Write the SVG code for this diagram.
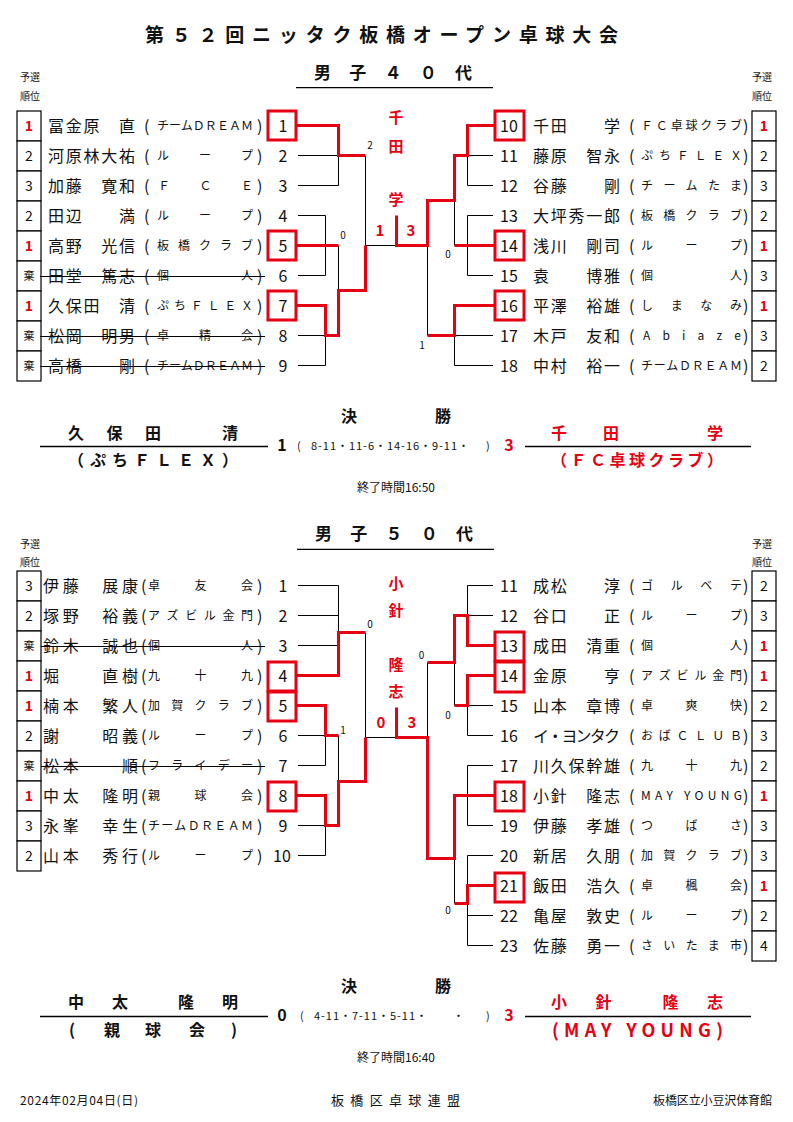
<svg xmlns="http://www.w3.org/2000/svg" width="793" height="1122" viewBox="0 0 793 1122">
<style>
.t{font-family:"Noto Sans CJK JP","Noto Sans CJK SC",sans-serif;fill:#111}
.nm{font-size:16px}
.cl{font-size:12px}
.sd{font-size:16px}
.rk{font-size:14px;text-anchor:middle}
.ki{font-size:11px;text-anchor:middle}
.rr{fill:#e60012;font-weight:bold}
.lb{font-size:10px;text-anchor:middle}
.hd{font-size:10px}
.c{text-anchor:middle}
.b{font-weight:bold}
.red{fill:#e60012}
.ln{stroke:#000;stroke-width:1;fill:none}
.rl{stroke:#e60012;stroke-width:3;fill:none}
.rb{fill:none;stroke:#e60012;stroke-width:3}
.cell{fill:#fff;stroke:#000;stroke-width:1.2}
.st{stroke:#000;stroke-width:1.2}
.hl{stroke:#000;stroke-width:1.3}
</style>
<rect width="793" height="1122" fill="#fff"/>

<g id="header">
<text class="t b" x="145" y="42" font-size="19" textLength="473">第５２回ニッタク板橋オープン卓球大会</text>
<text class="t b" x="314" y="79" font-size="17" textLength="158">男子４０代</text>
<line class="hl" x1="296" y1="87.7" x2="493" y2="87.7"/>
<text class="t hd" x="20" y="81.3">予選</text>
<text class="t hd" x="20" y="99.8">順位</text>
<text class="t hd" x="752" y="81.3">予選</text>
<text class="t hd" x="752" y="99.8">順位</text>
</g>

<g id="connectors-40">
<path class="ln" d="M298 155.5H338.5M298 185.5H338.5M338.5 155.5V185.5M298 215.5H325.5M298 275.5H325.5M325.5 215.5V275.5M338.5 245.5V290.5M298 335.5H325.5M298 365.5H325.5M325.5 335.5V365.5M365.5 155.5V245.5M365.5 245.5H396.5"/>
<path class="ln" d="M493 155.5H467.5M493 185.5H467.5M467.5 155.5V185.5M493 215.5H467.5M493 275.5H467.5M467.5 215.5V275.5M454.5 200.5V245.5M493 335.5H454.5M493 365.5H454.5M454.5 335.5V365.5M427.5 245.5V335.5"/>
<path class="rl" d="M297 125.5H338.5V155.5H365.5"/>
<path class="rl" d="M297 245.5H338.5"/>
<path class="rl" d="M297 305.5H325.5V335.5H338.5V290.5H365.5V245.5"/>
<path class="rl" d="M494 125.5H467.5V155.5H454.5V200.5H427.5V245.5H396.5V215.5"/>
<path class="rl" d="M494 245.5H454.5"/>
<path class="rl" d="M494 305.5H454.5V335.5H427.5"/>
<text class="t lb" x="370" y="149">2</text>
<text class="t lb" x="343" y="239">0</text>
<text class="t lb" x="448" y="257.5">0</text>
<text class="t lb" x="422" y="349">1</text>
</g>

<g id="winner-40">
<text class="t red b c" x="396" y="123" font-size="15">千</text>
<text class="t red b c" x="396" y="152" font-size="15">田</text>
<text class="t red b c" x="396" y="204.5" font-size="15">学</text>
<text class="t red b c" x="380" y="235.5" font-size="15">1</text>
<text class="t red b c" x="411" y="235.5" font-size="15">3</text>
</g>

<!-- 40 left -->
<g id="m40-p1"><rect class="cell" x="17" y="111" width="24" height="30"/><text class="t rk rr" x="29" y="131">1</text><text class="t nm" x="48" y="131.5" textLength="87">冨金原　直</text><text class="t nm" x="144" y="131.5">(</text><text class="t cl" x="157" y="130" textLength="96">チームＤＲＥＡＭ</text><text class="t nm" x="257" y="131.5">)</text><text class="t sd c" x="283" y="131.5">1</text><rect class="rb" x="268" y="111" width="28" height="29"/></g>
<g id="m40-p2"><rect class="cell" x="17" y="141" width="24" height="30"/><text class="t rk" x="29" y="161">2</text><text class="t nm" x="48" y="161.5" textLength="87">河原林大祐</text><text class="t nm" x="144" y="161.5">(</text><text class="t cl" x="157" y="160" textLength="96">ル　ー　プ</text><text class="t nm" x="257" y="161.5">)</text><text class="t sd c" x="283" y="161.5">2</text></g>
<g id="m40-p3"><rect class="cell" x="17" y="171" width="24" height="30"/><text class="t rk" x="29" y="191">3</text><text class="t nm" x="48" y="191.5" textLength="87">加藤　寛和</text><text class="t nm" x="144" y="191.5">(</text><text class="t cl" x="158" y="190" textLength="95">Ｆ　Ｃ　Ｅ</text><text class="t nm" x="257" y="191.5">)</text><text class="t sd c" x="283" y="191.5">3</text></g>
<g id="m40-p4"><rect class="cell" x="17" y="201" width="24" height="30"/><text class="t rk" x="29" y="221">2</text><text class="t nm" x="48" y="221.5" textLength="87">田辺　　満</text><text class="t nm" x="144" y="221.5">(</text><text class="t cl" x="157" y="220" textLength="96">ル　ー　プ</text><text class="t nm" x="257" y="221.5">)</text><text class="t sd c" x="283" y="221.5">4</text></g>
<g id="m40-p5"><rect class="cell" x="17" y="231" width="24" height="30"/><text class="t rk rr" x="29" y="251">1</text><text class="t nm" x="48" y="251.5" textLength="87">高野　光信</text><text class="t nm" x="144" y="251.5">(</text><text class="t cl" x="157" y="250" textLength="96">板橋クラブ</text><text class="t nm" x="257" y="251.5">)</text><text class="t sd c" x="283" y="251.5">5</text><rect class="rb" x="268" y="231" width="28" height="29"/></g>
<g id="m40-p6"><rect class="cell" x="17" y="261" width="24" height="30"/><text class="t ki" x="29" y="280">棄</text><text class="t nm" x="48" y="281.5" textLength="87">田堂　篤志</text><text class="t nm" x="144" y="281.5">(</text><text class="t cl" x="157" y="280" textLength="96">個　　人</text><text class="t nm" x="257" y="281.5">)</text><text class="t sd c" x="283" y="281.5">6</text><line class="st" x1="40" y1="276.5" x2="265" y2="276.5"/></g>
<g id="m40-p7"><rect class="cell" x="17" y="291" width="24" height="30"/><text class="t rk rr" x="29" y="311">1</text><text class="t nm" x="48" y="311.5" textLength="87">久保田　清</text><text class="t nm" x="144" y="311.5">(</text><text class="t cl" x="157" y="310" textLength="96">ぷちＦＬＥＸ</text><text class="t nm" x="257" y="311.5">)</text><text class="t sd c" x="283" y="311.5">7</text><rect class="rb" x="268" y="291" width="28" height="29"/></g>
<g id="m40-p8"><rect class="cell" x="17" y="321" width="24" height="30"/><text class="t ki" x="29" y="340">棄</text><text class="t nm" x="48" y="341.5" textLength="87">松岡　明男</text><text class="t nm" x="144" y="341.5">(</text><text class="t cl" x="157" y="340" textLength="96">卓　精　会</text><text class="t nm" x="257" y="341.5">)</text><text class="t sd c" x="283" y="341.5">8</text><line class="st" x1="40" y1="336.5" x2="265" y2="336.5"/></g>
<g id="m40-p9"><rect class="cell" x="17" y="351" width="24" height="30"/><text class="t ki" x="29" y="370">棄</text><text class="t nm" x="48" y="371.5" textLength="87">高橋　　剛</text><text class="t nm" x="144" y="371.5">(</text><text class="t cl" x="157" y="370" textLength="96">チームＤＲＥＡＭ</text><text class="t nm" x="257" y="371.5">)</text><text class="t sd c" x="283" y="371.5">9</text><line class="st" x1="40" y1="366.5" x2="265" y2="366.5"/></g>

<!-- 40 right -->
<g id="m40-p10"><text class="t sd" x="500" y="131.5">10</text><text class="t nm" x="533" y="131.5" textLength="87">千田　　学</text><text class="t nm" x="629" y="131.5">(</text><text class="t cl" x="641" y="130" textLength="101">ＦＣ卓球クラブ</text><text class="t nm" x="743" y="131.5">)</text><rect class="cell" x="752" y="111" width="24" height="30"/><text class="t rk rr" x="764" y="131">1</text><rect class="rb" x="495" y="111" width="29" height="29"/></g>
<g id="m40-p11"><text class="t sd" x="500" y="161.5">11</text><text class="t nm" x="533" y="161.5" textLength="87">藤原　智永</text><text class="t nm" x="629" y="161.5">(</text><text class="t cl" x="641" y="160" textLength="101">ぷちＦＬＥＸ</text><text class="t nm" x="743" y="161.5">)</text><rect class="cell" x="752" y="141" width="24" height="30"/><text class="t rk" x="764" y="161">2</text></g>
<g id="m40-p12"><text class="t sd" x="500" y="191.5">12</text><text class="t nm" x="533" y="191.5" textLength="87">谷藤　　剛</text><text class="t nm" x="629" y="191.5">(</text><text class="t cl" x="641" y="190" textLength="101">チームたま</text><text class="t nm" x="743" y="191.5">)</text><rect class="cell" x="752" y="171" width="24" height="30"/><text class="t rk" x="764" y="191">3</text></g>
<g id="m40-p13"><text class="t sd" x="500" y="221.5">13</text><text class="t nm" x="533" y="221.5" textLength="87">大坪秀一郎</text><text class="t nm" x="629" y="221.5">(</text><text class="t cl" x="641" y="220" textLength="101">板橋クラブ</text><text class="t nm" x="743" y="221.5">)</text><rect class="cell" x="752" y="201" width="24" height="30"/><text class="t rk" x="764" y="221">2</text></g>
<g id="m40-p14"><text class="t sd" x="500" y="251.5">14</text><text class="t nm" x="533" y="251.5" textLength="87">浅川　剛司</text><text class="t nm" x="629" y="251.5">(</text><text class="t cl" x="641" y="250" textLength="101">ル　ー　プ</text><text class="t nm" x="743" y="251.5">)</text><rect class="cell" x="752" y="231" width="24" height="30"/><text class="t rk rr" x="764" y="251">1</text><rect class="rb" x="495" y="231" width="29" height="29"/></g>
<g id="m40-p15"><text class="t sd" x="500" y="281.5">15</text><text class="t nm" x="533" y="281.5" textLength="87">袁　　博雅</text><text class="t nm" x="629" y="281.5">(</text><text class="t cl" x="641" y="280" textLength="101">個　　人</text><text class="t nm" x="743" y="281.5">)</text><rect class="cell" x="752" y="261" width="24" height="30"/><text class="t rk" x="764" y="281">3</text></g>
<g id="m40-p16"><text class="t sd" x="500" y="311.5">16</text><text class="t nm" x="533" y="311.5" textLength="87">平澤　裕雄</text><text class="t nm" x="629" y="311.5">(</text><text class="t cl" x="641" y="310" textLength="101">しまなみ</text><text class="t nm" x="743" y="311.5">)</text><rect class="cell" x="752" y="291" width="24" height="30"/><text class="t rk rr" x="764" y="311">1</text><rect class="rb" x="495" y="291" width="29" height="29"/></g>
<g id="m40-p17"><text class="t sd" x="500" y="341.5">17</text><text class="t nm" x="533" y="341.5" textLength="87">木戸　友和</text><text class="t nm" x="629" y="341.5">(</text><text class="t cl" x="643" y="340" textLength="98">Abiaze</text><text class="t nm" x="743" y="341.5">)</text><rect class="cell" x="752" y="321" width="24" height="30"/><text class="t rk" x="764" y="341">3</text></g>
<g id="m40-p18"><text class="t sd" x="500" y="371.5">18</text><text class="t nm" x="533" y="371.5" textLength="87">中村　裕一</text><text class="t nm" x="629" y="371.5">(</text><text class="t cl" x="641" y="370" textLength="101">チームＤＲＥＡＭ</text><text class="t nm" x="743" y="371.5">)</text><rect class="cell" x="752" y="351" width="24" height="30"/><text class="t rk" x="764" y="371">2</text></g>

<g id="final-40">
<text class="t b" x="341" y="422" font-size="16">決</text>
<text class="t b" x="435" y="422" font-size="16">勝</text>
<text class="t b" x="68" y="438.5" font-size="16" textLength="170">久　保　田　　　清</text>
<line class="hl" x1="40" y1="446.5" x2="268" y2="446.5"/>
<text class="t b" x="68" y="466" font-size="16" textLength="170">（ぷちＦＬＥＸ）</text>
<text class="t b c" x="282" y="451" font-size="16">1</text>
<text class="t" x="297" y="449.5" font-size="11">(</text>
<text class="t" x="311" y="449.5" font-size="11" textLength="158">8-11・11-6・14-16・9-11・</text>
<text class="t" x="486" y="449.5" font-size="11">)</text>
<text class="t b c red" x="509" y="451" font-size="16">3</text>
<line class="hl" x1="525" y1="446.5" x2="751" y2="446.5"/>
<text class="t b red" x="551" y="438.5" font-size="16" textLength="172">千　田　　　学</text>
<text class="t b red" x="551" y="466" font-size="16" textLength="172">（ＦＣ卓球クラブ）</text>
<text class="t c" x="396" y="492" font-size="12">終了時間16:50</text>
</g>

<g id="header-50">
<text class="t b" x="315" y="540.3" font-size="17" textLength="158">男子５０代</text>
<line class="hl" x1="297" y1="549.3" x2="494" y2="549.3"/>
<text class="t hd" x="20" y="548">予選</text>
<text class="t hd" x="20" y="566">順位</text>
<text class="t hd" x="752" y="548">予選</text>
<text class="t hd" x="752" y="566">順位</text>
</g>

<g id="connectors-50">
<path class="ln" d="M298 585.5H338.5M298 615.5H338.5M298 645.5H338.5M338.5 585.5V632.5M298 735.5H325.5M298 765.5H325.5M325.5 735.5V765.5M338.5 735.5V781.5M298 825.5H325.5M298 855.5H325.5M325.5 825.5V855.5M365.5 632.5V737.5M365.5 737.5H396.5"/>
<path class="ln" d="M493 585.5H467.5M493 615.5H467.5M467.5 585.5V615.5M493 705.5H467.5M493 735.5H467.5M467.5 705.5V735.5M454.5 662.5V705.5M427.5 662.5V737.5M493 765.5H467.5M493 825.5H467.5M467.5 765.5V825.5M493 855.5H467.5M493 915.5H467.5M493 945.5H467.5M467.5 855.5V945.5M454.5 858.5V903.5"/>
<path class="rl" d="M297 675.5H338.5V632.5H365.5"/>
<path class="rl" d="M297 705.5H325.5V735.5H338.5"/>
<path class="rl" d="M297 795.5H325.5V825.5H338.5V781.5H365.5V737.5"/>
<path class="rl" d="M494 645.5H467.5V615.5H454.5V662.5H427.5"/>
<path class="rl" d="M494 675.5H467.5V705.5H454.5"/>
<path class="rl" d="M494 795.5H454.5V858.5H427.5V737.5H396.5V707.5"/>
<path class="rl" d="M494 885.5H467.5V903.5H454.5"/>
<text class="t lb" x="370" y="627.5">0</text>
<text class="t lb" x="343" y="734">1</text>
<text class="t lb" x="421.5" y="658.5">0</text>
<text class="t lb" x="448" y="719">0</text>
<text class="t lb" x="448" y="913.5">0</text>
</g>

<g id="winner-50">
<text class="t red b c" x="396" y="589" font-size="15">小</text>
<text class="t red b c" x="396" y="615.7" font-size="15">針</text>
<text class="t red b c" x="396" y="670.4" font-size="15">隆</text>
<text class="t red b c" x="396" y="697.4" font-size="15">志</text>
<text class="t red b c" x="381" y="728" font-size="15">0</text>
<text class="t red b c" x="412" y="728" font-size="15">3</text>
</g>

<!-- 50 left -->
<g id="m50-p1"><rect class="cell" x="17" y="571" width="24" height="30"/><text class="t rk" x="29" y="591">3</text><text class="t nm" x="43" y="591.5" textLength="95">伊藤　展康</text><text class="t nm" x="141" y="591.5">(</text><text class="t cl" x="148" y="590" textLength="105">卓　友　会</text><text class="t nm" x="257" y="591.5">)</text><text class="t sd c" x="283" y="591.5">1</text></g>
<g id="m50-p2"><rect class="cell" x="17" y="601" width="24" height="30"/><text class="t rk" x="29" y="621">2</text><text class="t nm" x="43" y="621.5" textLength="95">塚野　裕義</text><text class="t nm" x="141" y="621.5">(</text><text class="t cl" x="148" y="620" textLength="105">アズビル金門</text><text class="t nm" x="257" y="621.5">)</text><text class="t sd c" x="283" y="621.5">2</text></g>
<g id="m50-p3"><rect class="cell" x="17" y="631" width="24" height="30"/><text class="t ki" x="29" y="650">棄</text><text class="t nm" x="43" y="651.5" textLength="95">鈴木　誠也</text><text class="t nm" x="141" y="651.5">(</text><text class="t cl" x="148" y="650" textLength="105">個　　人</text><text class="t nm" x="257" y="651.5">)</text><text class="t sd c" x="283" y="651.5">3</text><line class="st" x1="41" y1="646.5" x2="265" y2="646.5"/></g>
<g id="m50-p4"><rect class="cell" x="17" y="661" width="24" height="30"/><text class="t rk rr" x="29" y="681">1</text><text class="t nm" x="43" y="681.5" textLength="95">堀　　直樹</text><text class="t nm" x="141" y="681.5">(</text><text class="t cl" x="148" y="680" textLength="105">九　十　九</text><text class="t nm" x="257" y="681.5">)</text><text class="t sd c" x="283" y="681.5">4</text><rect class="rb" x="268" y="662" width="28" height="29"/></g>
<g id="m50-p5"><rect class="cell" x="17" y="691" width="24" height="30"/><text class="t rk rr" x="29" y="711">1</text><text class="t nm" x="43" y="711.5" textLength="95">楠本　繁人</text><text class="t nm" x="141" y="711.5">(</text><text class="t cl" x="148" y="710" textLength="105">加賀クラブ</text><text class="t nm" x="257" y="711.5">)</text><text class="t sd c" x="283" y="711.5">5</text><rect class="rb" x="268" y="692" width="28" height="29"/></g>
<g id="m50-p6"><rect class="cell" x="17" y="721" width="24" height="30"/><text class="t rk" x="29" y="741">2</text><text class="t nm" x="43" y="741.5" textLength="95">謝　　昭義</text><text class="t nm" x="141" y="741.5">(</text><text class="t cl" x="148" y="740" textLength="105">ル　ー　プ</text><text class="t nm" x="257" y="741.5">)</text><text class="t sd c" x="283" y="741.5">6</text></g>
<g id="m50-p7"><rect class="cell" x="17" y="751" width="24" height="30"/><text class="t ki" x="29" y="770">棄</text><text class="t nm" x="43" y="771.5" textLength="95">松本　　順</text><text class="t nm" x="141" y="771.5">(</text><text class="t cl" x="148" y="770" textLength="105">フライデー</text><text class="t nm" x="257" y="771.5">)</text><text class="t sd c" x="283" y="771.5">7</text><line class="st" x1="41" y1="766.5" x2="265" y2="766.5"/></g>
<g id="m50-p8"><rect class="cell" x="17" y="781" width="24" height="30"/><text class="t rk rr" x="29" y="801">1</text><text class="t nm" x="43" y="801.5" textLength="95">中太　隆明</text><text class="t nm" x="141" y="801.5">(</text><text class="t cl" x="148" y="800" textLength="105">親　球　会</text><text class="t nm" x="257" y="801.5">)</text><text class="t sd c" x="283" y="801.5">8</text><rect class="rb" x="268" y="782" width="28" height="29"/></g>
<g id="m50-p9"><rect class="cell" x="17" y="811" width="24" height="30"/><text class="t rk" x="29" y="831">3</text><text class="t nm" x="43" y="831.5" textLength="95">永峯　幸生</text><text class="t nm" x="141" y="831.5">(</text><text class="t cl" x="148" y="830" textLength="105">チームＤＲＥＡＭ</text><text class="t nm" x="257" y="831.5">)</text><text class="t sd c" x="283" y="831.5">9</text></g>
<g id="m50-p10"><rect class="cell" x="17" y="841" width="24" height="30"/><text class="t rk" x="29" y="861">2</text><text class="t nm" x="43" y="861.5" textLength="95">山本　秀行</text><text class="t nm" x="141" y="861.5">(</text><text class="t cl" x="148" y="860" textLength="105">ル　ー　プ</text><text class="t nm" x="257" y="861.5">)</text><text class="t sd c" x="282" y="861.5">10</text></g>

<!-- 50 right -->
<g id="m50-p11"><text class="t sd" x="500" y="591.5">11</text><text class="t nm" x="533" y="591.5" textLength="87">成松　　淳</text><text class="t nm" x="629" y="591.5">(</text><text class="t cl" x="641" y="590" textLength="101">ゴ　ル　ベ　テ</text><text class="t nm" x="743" y="591.5">)</text><rect class="cell" x="752" y="571" width="24" height="30"/><text class="t rk" x="764" y="591">2</text></g>
<g id="m50-p12"><text class="t sd" x="500" y="621.5">12</text><text class="t nm" x="533" y="621.5" textLength="87">谷口　　正</text><text class="t nm" x="629" y="621.5">(</text><text class="t cl" x="641" y="620" textLength="101">ル　ー　プ</text><text class="t nm" x="743" y="621.5">)</text><rect class="cell" x="752" y="601" width="24" height="30"/><text class="t rk" x="764" y="621">3</text></g>
<g id="m50-p13"><text class="t sd" x="500" y="651.5">13</text><text class="t nm" x="533" y="651.5" textLength="87">成田　清重</text><text class="t nm" x="629" y="651.5">(</text><text class="t cl" x="641" y="650" textLength="101">個　　人</text><text class="t nm" x="743" y="651.5">)</text><rect class="cell" x="752" y="631" width="24" height="30"/><text class="t rk rr" x="764" y="651">1</text><rect class="rb" x="495" y="632" width="29" height="29"/></g>
<g id="m50-p14"><text class="t sd" x="500" y="681.5">14</text><text class="t nm" x="533" y="681.5" textLength="87">金原　　亨</text><text class="t nm" x="629" y="681.5">(</text><text class="t cl" x="641" y="680" textLength="101">アズビル金門</text><text class="t nm" x="743" y="681.5">)</text><rect class="cell" x="752" y="661" width="24" height="30"/><text class="t rk rr" x="764" y="681">1</text><rect class="rb" x="495" y="662" width="29" height="30"/></g>
<g id="m50-p15"><text class="t sd" x="500" y="711.5">15</text><text class="t nm" x="533" y="711.5" textLength="87">山本　章博</text><text class="t nm" x="629" y="711.5">(</text><text class="t cl" x="641" y="710" textLength="101">卓　爽　快</text><text class="t nm" x="743" y="711.5">)</text><rect class="cell" x="752" y="691" width="24" height="30"/><text class="t rk" x="764" y="711">2</text></g>
<g id="m50-p16"><text class="t sd" x="500" y="741.5">16</text><text class="t nm" x="533" y="741.5" textLength="87">イ・ヨンタク</text><text class="t nm" x="629" y="741.5">(</text><text class="t cl" x="641" y="740" textLength="101">おばＣＬＵＢ</text><text class="t nm" x="743" y="741.5">)</text><rect class="cell" x="752" y="721" width="24" height="30"/><text class="t rk" x="764" y="741">3</text></g>
<g id="m50-p17"><text class="t sd" x="500" y="771.5">17</text><text class="t nm" x="533" y="771.5" textLength="87">川久保幹雄</text><text class="t nm" x="629" y="771.5">(</text><text class="t cl" x="641" y="770" textLength="101">九　十　九</text><text class="t nm" x="743" y="771.5">)</text><rect class="cell" x="752" y="751" width="24" height="30"/><text class="t rk" x="764" y="771">2</text></g>
<g id="m50-p18"><text class="t sd" x="500" y="801.5">18</text><text class="t nm" x="533" y="801.5" textLength="87">小針　隆志</text><text class="t nm" x="629" y="801.5">(</text><text class="t cl" x="641" y="800" textLength="101">MAY YOUNG</text><text class="t nm" x="743" y="801.5">)</text><rect class="cell" x="752" y="781" width="24" height="30"/><text class="t rk rr" x="764" y="801">1</text><rect class="rb" x="495" y="782" width="29" height="29"/></g>
<g id="m50-p19"><text class="t sd" x="500" y="831.5">19</text><text class="t nm" x="533" y="831.5" textLength="87">伊藤　孝雄</text><text class="t nm" x="629" y="831.5">(</text><text class="t cl" x="641" y="830" textLength="101">つ　ば　さ</text><text class="t nm" x="743" y="831.5">)</text><rect class="cell" x="752" y="811" width="24" height="30"/><text class="t rk" x="764" y="831">3</text></g>
<g id="m50-p20"><text class="t sd" x="500" y="861.5">20</text><text class="t nm" x="533" y="861.5" textLength="87">新居　久朋</text><text class="t nm" x="629" y="861.5">(</text><text class="t cl" x="641" y="860" textLength="101">加賀クラブ</text><text class="t nm" x="743" y="861.5">)</text><rect class="cell" x="752" y="841" width="24" height="30"/><text class="t rk" x="764" y="861">3</text></g>
<g id="m50-p21"><text class="t sd" x="500" y="891.5">21</text><text class="t nm" x="533" y="891.5" textLength="87">飯田　浩久</text><text class="t nm" x="629" y="891.5">(</text><text class="t cl" x="641" y="890" textLength="101">卓　楓　会</text><text class="t nm" x="743" y="891.5">)</text><rect class="cell" x="752" y="871" width="24" height="30"/><text class="t rk rr" x="764" y="891">1</text><rect class="rb" x="495" y="873" width="29" height="29"/></g>
<g id="m50-p22"><text class="t sd" x="500" y="921.5">22</text><text class="t nm" x="533" y="921.5" textLength="87">亀屋　敦史</text><text class="t nm" x="629" y="921.5">(</text><text class="t cl" x="641" y="920" textLength="101">ル　ー　プ</text><text class="t nm" x="743" y="921.5">)</text><rect class="cell" x="752" y="901" width="24" height="30"/><text class="t rk" x="764" y="921">2</text></g>
<g id="m50-p23"><text class="t sd" x="500" y="951.5">23</text><text class="t nm" x="533" y="951.5" textLength="87">佐藤　勇一</text><text class="t nm" x="629" y="951.5">(</text><text class="t cl" x="641" y="950" textLength="101">さいたま市</text><text class="t nm" x="743" y="951.5">)</text><rect class="cell" x="752" y="931" width="24" height="30"/><text class="t rk" x="764" y="951">4</text></g>

<g id="final-50">
<text class="t b" x="341" y="992" font-size="16">決</text>
<text class="t b" x="435" y="992" font-size="16">勝</text>
<text class="t b" x="68" y="1008" font-size="16" textLength="170">中　太　　隆　明</text>
<line class="hl" x1="40" y1="1016.5" x2="268" y2="1016.5"/>
<text class="t b" x="69 104 145 189 231" y="1036" font-size="16">(親球会)</text>
<text class="t b c" x="282" y="1021" font-size="16">0</text>
<text class="t" x="300" y="1019.5" font-size="11">(</text>
<text class="t" x="314" y="1019.5" font-size="11" textLength="113">4-11・7-11・5-11・</text>
<text class="t" x="453" y="1019.5" font-size="11">・</text>
<text class="t" x="486" y="1019.5" font-size="11">)</text>
<text class="t b c red" x="509" y="1021" font-size="16">3</text>
<line class="hl" x1="525" y1="1016.5" x2="751" y2="1016.5"/>
<text class="t b red" x="551" y="1008" font-size="16" textLength="172">小　針　　隆　志</text>
<text class="t b red" x="552" y="1036.5" font-size="18" textLength="171">(MAY YOUNG)</text>
<text class="t c" x="396" y="1061.5" font-size="12">終了時間16:40</text>
</g>

<g id="footer">
<text class="t" x="20" y="1105" font-size="12" textLength="118">2024年02月04日(日)</text>
<text class="t" x="331" y="1105" font-size="13" textLength="129">板橋区卓球連盟</text>
<text class="t" x="653" y="1105" font-size="12" textLength="119">板橋区立小豆沢体育館</text>
</g>
</svg>
